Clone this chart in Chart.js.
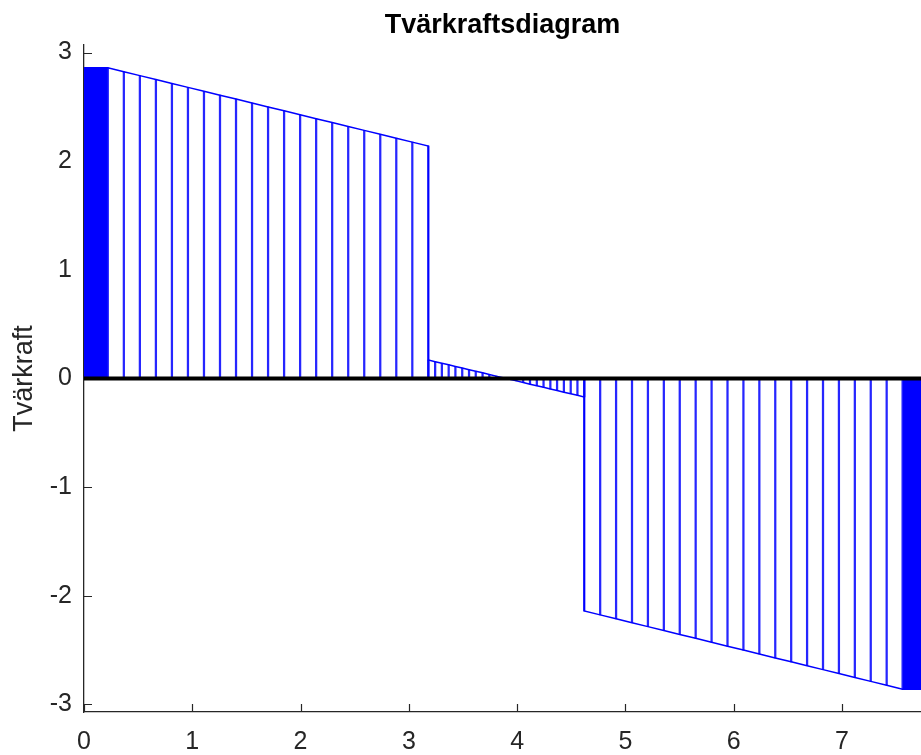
<!DOCTYPE html>
<html>
<head>
<meta charset="utf-8">
<script src="https://cdn.jsdelivr.net/npm/chart.js@4.4.1/dist/chart.umd.min.js"></script>
<style>
    body { margin: 0; background: #ffffff; }
    canvas { display: block; }
</style>
</head>
<body>
<canvas id="tvarkraft" width="921" height="755"></canvas>
<script>
// stems along the beam (x in length units, value = shear force)
const leftX = [0.22, 0.368, 0.516, 0.664, 0.812, 0.96, 1.108, 1.256, 1.404, 1.552, 1.70,
    1.848, 1.996, 2.144, 2.292, 2.44, 2.588, 2.736, 2.884, 3.032, 3.18];
const leftV = [2.86, 2.824, 2.788, 2.752, 2.716, 2.68, 2.644, 2.608, 2.572, 2.536, 2.50,
    2.464, 2.428, 2.392, 2.356, 2.32, 2.284, 2.248, 2.212, 2.176, 2.14];

const midX = [3.18, 3.243, 3.305, 3.368, 3.43, 3.493, 3.556, 3.618, 3.681, 3.743, 3.806, 3.869,
    3.931, 3.994, 4.056, 4.119, 4.182, 4.244, 4.307, 4.369, 4.432, 4.495, 4.557, 4.62];
const midV = [0.17, 0.155, 0.14, 0.126, 0.111, 0.096, 0.081, 0.067, 0.052, 0.037, 0.022, 0.007,
    -0.007, -0.022, -0.037, -0.052, -0.067, -0.081, -0.096, -0.111, -0.126, -0.14, -0.155, -0.17];

const rightX = [4.62, 4.767, 4.914, 5.061, 5.208, 5.355, 5.502, 5.649, 5.796, 5.943, 6.09,
    6.237, 6.384, 6.531, 6.678, 6.825, 6.972, 7.119, 7.266, 7.413, 7.56];
const rightV = [-2.14, -2.176, -2.212, -2.248, -2.284, -2.32, -2.356, -2.392, -2.428, -2.464, -2.50,
    -2.536, -2.572, -2.608, -2.644, -2.68, -2.716, -2.752, -2.788, -2.824, -2.86];

// solid parts at the supports
const supLeftX = [0, 0.22];
const supLeftV = [2.86, 2.86];
const supRightX = [7.56, 7.78];
const supRightV = [-2.86, -2.86];

const beamX = [0, 7.78];
const yTicks = [-3, -2, -1, 0, 1, 2, 3];
const xTicks = [0, 1, 2, 3, 4, 5, 6, 7];

const pts = (xs, vs) => xs.map((x, i) => ({x: x, y: vs[i]}));

const stems = pts(leftX, leftV).concat(pts(midX, midV), pts(rightX, rightV));
const outline = pts(supLeftX, supLeftV).concat(stems, pts(supRightX, supRightV));

const font = 'Liberation Sans, Arial, Helvetica, sans-serif';
const axisColor = '#262626';

// MATLAB style tick marks, pointing into the axes
const innerTicks = {
    id: 'innerTicks',
    beforeDatasetsDraw(chart) {
        const {ctx, chartArea, scales} = chart;
        ctx.save();
        ctx.strokeStyle = axisColor;
        ctx.lineWidth = 1.2;
        ctx.beginPath();
        scales.x.ticks.forEach((t, i) => {
            const px = Math.round(scales.x.getPixelForTick(i)) + 0.5;
            ctx.moveTo(px, chartArea.bottom);
            ctx.lineTo(px, chartArea.bottom - 8);
        });
        scales.y.ticks.forEach((t, i) => {
            const py = Math.round(scales.y.getPixelForTick(i)) + 0.5;
            ctx.moveTo(chartArea.left, py);
            ctx.lineTo(chartArea.left + 8, py);
        });
        ctx.stroke();
        ctx.restore();
    }
};

let tvarkraft = document.getElementById('tvarkraft').getContext('2d');
new Chart(tvarkraft, {
    type: 'bar',
    data: {
        datasets: [
            {
                type: 'line',
                data: pts(beamX, [0, 0]),
                borderColor: '#000000',
                borderWidth: 4,
                pointRadius: 0,
                order: 0
            },
            {
                type: 'line',
                data: outline,
                borderColor: '#0000ff',
                borderWidth: 1.5,
                pointRadius: 0,
                tension: 0,
                order: 1
            },
            {
                type: 'line',
                data: pts(supLeftX, supLeftV),
                borderWidth: 0,
                pointRadius: 0,
                backgroundColor: '#0000ff',
                fill: 'origin',
                order: 2
            },
            {
                type: 'line',
                data: pts(supRightX, supRightV),
                borderWidth: 0,
                pointRadius: 0,
                backgroundColor: '#0000ff',
                fill: 'origin',
                order: 2
            },
            {
                type: 'bar',
                data: stems,
                backgroundColor: 'rgba(0,0,255,0.85)',
                barThickness: 1.6,
                borderWidth: 0,
                order: 3
            }
        ]
    },
    options: {
        responsive: false,
        animation: false,
        events: [],
        layout: {padding: 0},
        plugins: {
            legend: {display: false},
            tooltip: {enabled: false},
            title: {
                display: true,
                text: 'Tvärkraftsdiagram',
                color: '#000000',
                fullSize: false,
                font: {family: font, size: 27, weight: 'bold'},
                padding: {top: 9, bottom: 3.6}
            }
        },
        scales: {
            x: {
                type: 'linear',
                offset: false,
                min: 0,
                max: 7.73,
                afterFit: s => { s.height = 43; },
                afterBuildTicks: s => { s.ticks = xTicks.map(v => ({value: v})); },
                grid: {display: false, drawTicks: false},
                border: {display: true, color: axisColor, width: 1.3},
                ticks: {
                    color: axisColor,
                    padding: 15,
                    maxRotation: 0,
                    font: {family: font, size: 25}
                }
            },
            y: {
                min: -3.07,
                max: 3.07,
                afterFit: s => { s.width = 84; },
                afterBuildTicks: s => { s.ticks = yTicks.map(v => ({value: v})); },
                grid: {display: false, drawTicks: false},
                border: {display: true, color: axisColor, width: 1.3},
                ticks: {
                    color: axisColor,
                    padding: 12,
                    font: {family: font, size: 25}
                },
                title: {
                    display: true,
                    text: 'Tvärkraft',
                    color: axisColor,
                    padding: {top: 8, bottom: 0},
                    font: {family: font, size: 27}
                }
            }
        }
    },
    plugins: [innerTicks]
});
</script>
</body>
</html>
